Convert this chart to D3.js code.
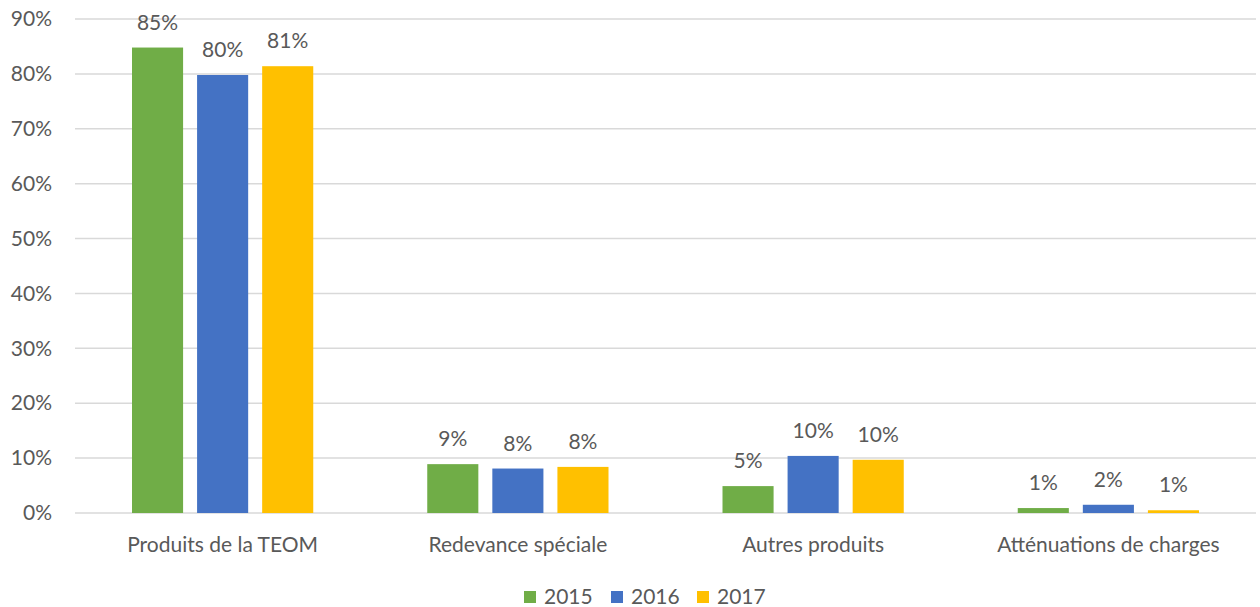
<!DOCTYPE html>
<html>
<head>
<meta charset="utf-8">
<script src="https://cdn.jsdelivr.net/npm/d3@7"></script>
<style>
  body { margin: 0; background: #fff; }
  text { font-family: Lato, "Open Sans", sans-serif; fill: #595959; }
</style>
</head>
<body>
<div class="item"></div>
<script>
var width = 1260;
var height = 607;

// données
var categories = ["Produits de la TEOM", "Redevance spéciale", "Autres produits", "Atténuations de charges"];
var years = ["2015", "2016", "2017"];
var values2015 = [84.8, 8.9, 4.9, 0.9];
var values2016 = [79.8, 8.1, 10.4, 1.5];
var values2017 = [81.4, 8.4, 9.7, 0.5];
var labels2015 = ["85%", "9%", "5%", "1%"];
var labels2016 = ["80%", "8%", "10%", "2%"];
var labels2017 = ["81%", "8%", "10%", "1%"];
var yTicks = [0, 10, 20, 30, 40, 50, 60, 70, 80, 90];
var colors = ["#70AD47", "#4472C4", "#FFC000"];

var series = [
  { year: years[0], values: values2015, labels: labels2015 },
  { year: years[1], values: values2016, labels: labels2016 },
  { year: years[2], values: values2017, labels: labels2017 }
];

var fontSize = 21;
var margin = { left: 75, right: 4, top: 19, bottom: 94 };

var svg = d3.select(".item")
  .append("svg")
  .attr("width", width)
  .attr("height", height);

var x0 = d3.scaleBand()
  .domain(categories)
  .range([margin.left, width - margin.right]);

var x1 = d3.scaleBand()
  .domain(years)
  .range([57, x0.bandwidth() - 57])
  .paddingInner(0.215);

var y = d3.scaleLinear()
  .domain([0, 90])
  .range([height - margin.bottom, margin.top]);

// grille
svg.append("g")
  .selectAll("line")
  .data(yTicks)
  .enter().append("line")
  .attr("x1", margin.left)
  .attr("x2", width - margin.right)
  .attr("y1", function(d){ return y(d); })
  .attr("y2", function(d){ return y(d); })
  .attr("stroke", "#d9d9d9")
  .attr("stroke-width", 1.5);

// axe y
var yAxis = d3.axisLeft(y)
  .tickValues(yTicks)
  .tickSize(0)
  .tickPadding(0)
  .tickFormat(function(d){ return d + "%"; });

var gy = svg.append("g")
  .attr("transform", "translate(52,0)")
  .call(yAxis);
gy.select(".domain").remove();
gy.selectAll("text")
  .attr("font-size", fontSize)
  .attr("font-family", "Lato, sans-serif")
  .attr("fill", "#595959");

// barres
var groups = svg.append("g")
  .selectAll("g")
  .data(series)
  .enter().append("g")
  .attr("fill", function(d, i){ return colors[i]; });

function rows(s){
  return s.values.map(function(v, i){ return { cat: categories[i], year: s.year, v: v, label: s.labels[i] }; });
}

groups.selectAll("rect")
  .data(rows)
  .enter().append("rect")
  .attr("x", function(d){ return x0(d.cat) + x1(d.year); })
  .attr("width", x1.bandwidth())
  .attr("y", function(d){ return y(d.v); })
  .attr("height", function(d){ return y(0) - y(d.v); });

// étiquettes
groups.selectAll("text")
  .data(rows)
  .enter().append("text")
  .attr("x", function(d){ return x0(d.cat) + x1(d.year) + x1.bandwidth() / 2; })
  .attr("y", function(d){ return y(d.v) - 18; })
  .attr("text-anchor", "middle")
  .attr("font-size", fontSize)
  .text(function(d){ return d.label; });

// axe x
var xAxis = d3.axisBottom(x0).tickSize(0).tickPadding(0);
var gx = svg.append("g")
  .attr("transform", "translate(0," + y(0) + ")")
  .call(xAxis);
gx.select(".domain").remove();
gx.selectAll("text")
  .attr("dy", 0)
  .attr("y", 39)
  .attr("font-size", fontSize)
  .attr("font-family", "Lato, sans-serif")
  .attr("fill", "#595959");

// légende
var legendX = [524, 611, 697];
var legend = svg.append("g")
  .selectAll("g")
  .data(years)
  .enter().append("g")
  .attr("transform", function(d, i){ return "translate(" + legendX[i] + ",591)"; });

legend.append("rect")
  .attr("width", 12)
  .attr("height", 12)
  .attr("fill", function(d, i){ return colors[i]; });

legend.append("text")
  .attr("x", 20)
  .attr("y", 13)
  .attr("font-size", fontSize)
  .text(function(d){ return d; });
</script>
</body>
</html>
